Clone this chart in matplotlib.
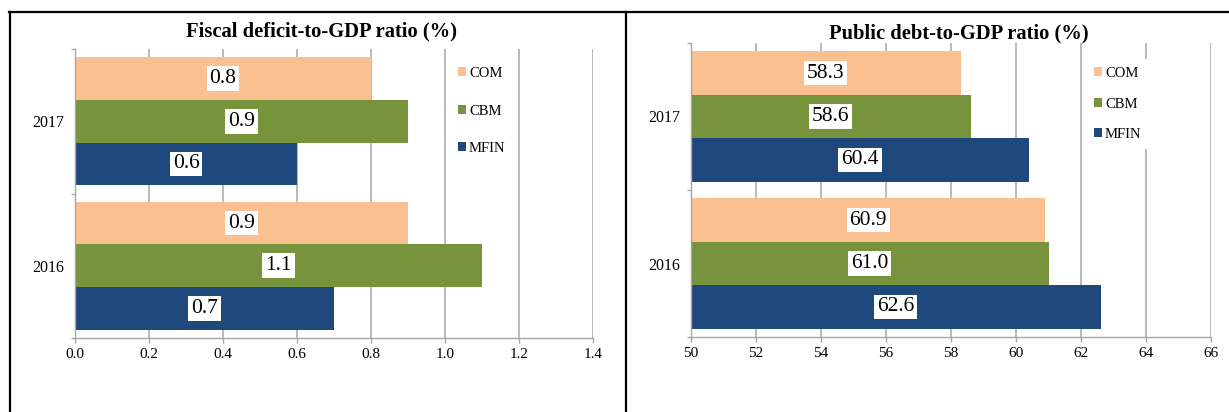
import matplotlib
matplotlib.use("Agg")
import matplotlib.pyplot as plt
from matplotlib.lines import Line2D
from matplotlib.patches import Patch
import numpy as np

plt.rcParams['font.family'] = ['Liberation Serif', 'DejaVu Serif']

years = ["2016", "2017"]
series = ["COM", "CBM", "MFIN"]
colors = {"COM": "#FAC090", "CBM": "#77933C", "MFIN": "#1F497D"}

deficit = {"COM": [0.9, 0.8], "CBM": [1.1, 0.9], "MFIN": [0.7, 0.6]}
debt = {"COM": [60.9, 58.3], "CBM": [61.0, 58.6], "MFIN": [62.6, 60.4]}

deficit_ticks = [0.0, 0.2, 0.4, 0.6, 0.8, 1.0, 1.2, 1.4]
debt_ticks = [50, 52, 54, 56, 58, 60, 62, 64, 66]

W, H = 1229, 412
fig = plt.figure(figsize=(W / 100, H / 100), dpi=100)


def fx(px):
    return px / W


def fy(py):
    return 1 - py / H


grid_color = "#B4B4B4"
spine_color = "#A6A6A6"
bar_h = 0.295
offsets = {"COM": bar_h, "CBM": 0.0, "MFIN": -bar_h}


def panel(rect, data, ticks, tickfmt, base, legend_anchor, labelspacing):
    ax = fig.add_axes(rect)
    y = np.arange(len(years))
    for s in series:
        vals = np.array(data[s])
        ax.barh(y + offsets[s], vals - base, left=base, height=bar_h,
                color=colors[s], edgecolor="none", zorder=2, label=s)
        for yi, v in zip(y, vals):
            ax.text((base + v) / 2, yi + offsets[s], tickfmt(v),
                    ha="center", va="center", fontsize=15.5, color="black",
                    zorder=4,
                    bbox=dict(boxstyle="square,pad=0.13", fc="white", ec="none"))
    ax.set_xlim(ticks[0], ticks[-1])
    ax.set_ylim(-0.5, 1.5)
    ax.set_xticks(ticks)
    ax.set_xticklabels([("%.1f" % t) if isinstance(t, float) else str(t) for t in ticks])
    ax.set_yticks(y)
    ax.set_yticklabels(years)
    ax.set_yticks([-0.5, 0.5, 1.5], minor=True)
    ax.tick_params(axis="y", which="major", length=0, pad=8, labelsize=11.5)
    ax.tick_params(axis="y", which="minor", length=3, color=spine_color, width=1)
    ax.tick_params(axis="x", which="major", length=3.5, color=spine_color, width=1,
                   pad=4, labelsize=11)
    ax.xaxis.grid(True, color=grid_color, linewidth=1.3, zorder=0)
    ax.set_axisbelow(True)
    for side in ("top", "right"):
        ax.spines[side].set_visible(False)
    for side in ("left", "bottom"):
        ax.spines[side].set_color(spine_color)
        ax.spines[side].set_linewidth(1.0)
    handles = [Patch(facecolor=colors[s], edgecolor="none") for s in series]
    leg = ax.legend(handles, series, loc="upper left",
                    bbox_to_anchor=legend_anchor, bbox_transform=fig.transFigure,
                    frameon=True, fancybox=False, framealpha=1, facecolor="white",
                    edgecolor="none", fontsize=10.5, handlelength=0.55,
                    handleheight=0.55, handletextpad=0.2,
                    labelspacing=labelspacing, borderpad=0.55, borderaxespad=0)
    leg.set_zorder(5)
    return ax


panel([fx(75), fy(338), fx(593) - fx(75), fy(49) - fy(338)],
      deficit, deficit_ticks, lambda v: "%.1f" % v, 0.0,
      (fx(450), fy(59)), 1.68)
panel([fx(691), fy(337), fx(1211) - fx(691), fy(43) - fy(337)],
      debt, debt_ticks, lambda v: "%.1f" % v, 50,
      (fx(1086), fy(59)), 1.2)

fig.text(fx(321), fy(31), "Fiscal deficit-to-GDP ratio (%)", ha="center",
         va="center", fontsize=14.8, fontweight="bold")
fig.text(fx(959), fy(33), "Public debt-to-GDP ratio (%)", ha="center",
         va="center", fontsize=14.8, fontweight="bold")

lw = 1.6
fig.add_artist(Line2D([fx(9), 1.0], [fy(12), fy(12)], color="black", lw=lw))
fig.add_artist(Line2D([fx(10), fx(10)], [fy(12), 0], color="black", lw=lw))
fig.add_artist(Line2D([fx(626), fx(626)], [fy(12), 0], color="black", lw=lw))

fig.savefig("out.png", dpi=100)
